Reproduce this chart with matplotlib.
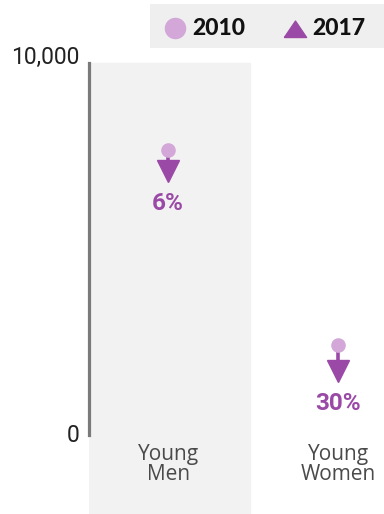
import matplotlib.pyplot as plt
from matplotlib.patches import Rectangle

plt.rcParams['font.family'] = ['Lato', 'DejaVu Sans']

categories = ['Young\nMen', 'Young\nWomen']
values_2010 = [7650, 2420]
values_2017 = [7100, 1720]
pct_change = ['6%', '30%']
legend_labels = ['2010', '2017']
ytick_vals = [0, 10000]
ytick_labels = ['0', '10,000']

c2010 = '#d3a8d8'
c2017 = '#9a4aa6'

fig = plt.figure(figsize=(3.84, 5.14), dpi=100)
W, H = 384, 514
ax = fig.add_axes([89 / W, 0, (W - 89) / W, 512 / H])
# y: 10000 at px 63, 0 at px 435, axes bottom at the figure edge
scale = (435 - 63) / 10000
ymin = -(514 - 435) / scale
ymax = 10000 + (63 - 2) / scale
ax.set_ylim(ymin, ymax)
ax.set_xlim(-0.465, 1.27)

# shaded band behind the first category
ax.add_patch(Rectangle((-0.465, ymin), 0.947, 10000 - ymin, color='#f2f2f2', zorder=0))

for i in range(len(categories)):
    ax.plot([i, i], [values_2010[i], values_2017[i] + 300], color=c2017, lw=2.6, zorder=2)
    ax.plot(i, values_2010[i], 'o', color=c2010, ms=9.5, zorder=3)
    ax.plot(i, values_2017[i], 'v', color=c2017, ms=16, zorder=4)
    ax.text(i, values_2017[i] - 560, pct_change[i], color=c2017, fontsize=17.5,
            fontweight='bold', ha='center', va='top', family=['Roboto', 'DejaVu Sans'])
    ax.text(i, -250, categories[i], ha='center', va='top', fontsize=15,
            color='#4a4a4a', linespacing=0.95, family=['Open Sans', 'DejaVu Sans'])

for s in ['top', 'right', 'bottom']:
    ax.spines[s].set_visible(False)
ax.spines['left'].set_bounds(0, 10000)
ax.spines['left'].set_color('#7a7a7a')
ax.spines['left'].set_linewidth(2.3)
ax.set_xticks([])
ax.set_yticks([])
for v, lab, dy in zip(ytick_vals, ytick_labels, [0, 4]):
    ax.annotate(lab, (0, v), xycoords=('axes fraction', 'data'),
                xytext=(-7, dy), textcoords='offset points', ha='right', va='center',
                fontsize=16.5, color='#222222', family=['Roboto', 'DejaVu Sans'])
ax.patch.set_visible(False)

# legend strip drawn in its own pixel-scaled axes
lax = fig.add_axes([150 / W, 1 - 48 / H, (W - 150) / W, 44 / H])
lax.set_xlim(150, 384)
lax.set_ylim(48, 4)
lax.axis('off')
lax.add_patch(Rectangle((150, 4), 234, 44, color='#efefef', zorder=0))
tri = [(-1.25, -0.9), (1.25, -0.9), (0, 0.95), (-1.25, -0.9)]
lax.plot(175, 28, 'o', color=c2010, ms=14.5)
lax.plot(295, 28.5, marker=tri, ls='', color=c2017, ms=16)
lax.text(192, 28.5, legend_labels[0], fontsize=16.5, fontweight='black', va='center', color='#111111')
lax.text(312, 28.5, legend_labels[1], fontsize=16.5, fontweight='black', va='center', color='#111111')

fig.savefig('out.png', dpi=100)
